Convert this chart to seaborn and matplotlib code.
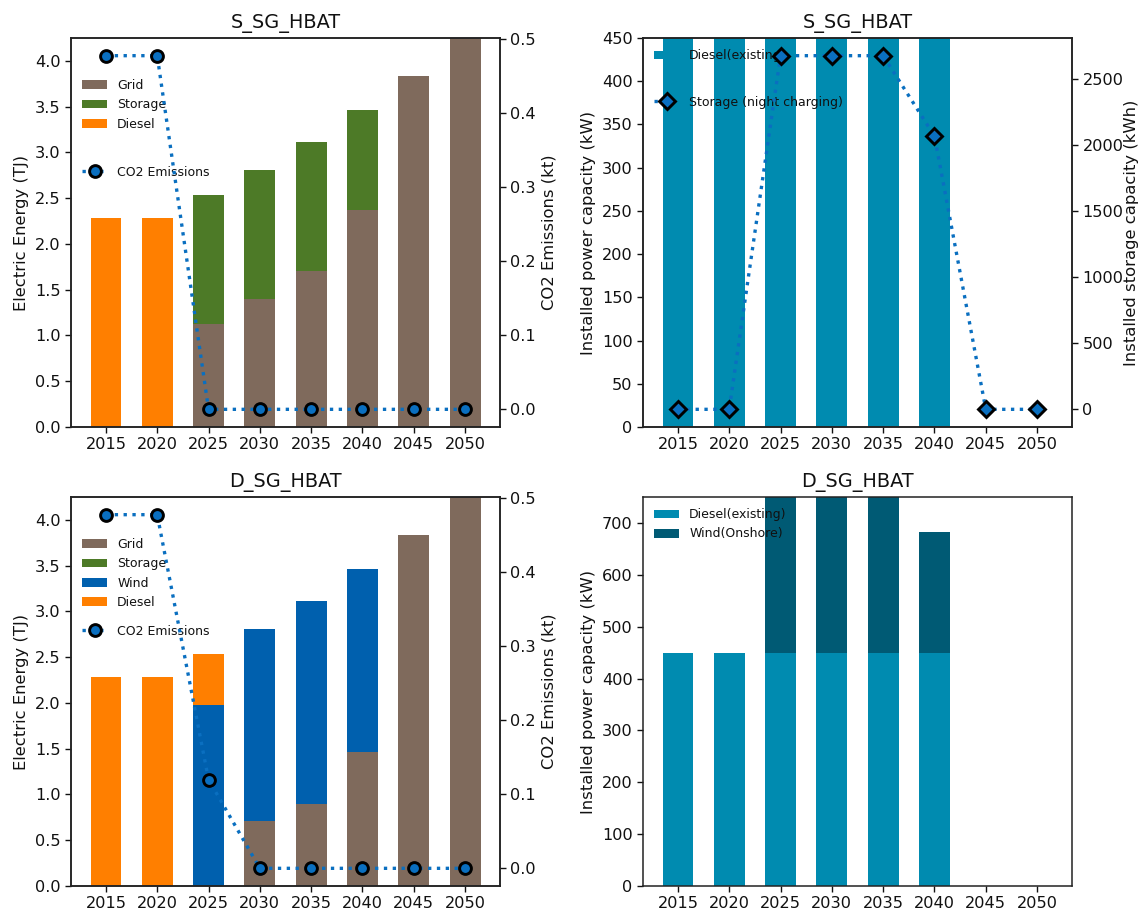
import matplotlib
matplotlib.use("Agg")
import matplotlib.pyplot as plt
import numpy as np
import pandas as pd
import seaborn as sns

# ---- data ----
years = [2015, 2020, 2025, 2030, 2035, 2040, 2045, 2050]

# S_SG_HBAT, electric energy (TJ)
s_grid = [0.0, 0.0, 1.12, 1.40, 1.70, 2.37, 3.83, 4.30]
s_storage = [0.0, 0.0, 1.42, 1.41, 1.41, 1.09, 0.0, 0.0]
s_diesel = [2.28, 2.28, 0.0, 0.0, 0.0, 0.0, 0.0, 0.0]
s_co2 = [0.478, 0.478, 0.0, 0.0, 0.0, 0.0, 0.0, 0.0]

# D_SG_HBAT, electric energy (TJ)
d_grid = [0.0, 0.0, 0.0, 0.71, 0.90, 1.46, 3.83, 4.30]
d_storage = [0.0, 0.0, 0.0, 0.0, 0.0, 0.0, 0.0, 0.0]
d_wind = [0.0, 0.0, 1.98, 2.10, 2.21, 2.00, 0.0, 0.0]
d_diesel = [2.28, 2.28, 0.55, 0.0, 0.0, 0.0, 0.0, 0.0]
d_co2 = [0.478, 0.478, 0.12, 0.0, 0.0, 0.0, 0.0, 0.0]

# installed capacities
s_cap_diesel = [450, 450, 450, 450, 450, 450, 0, 0]
s_cap_storage = [0, 0, 2675, 2675, 2675, 2067, 0, 0]
d_cap_diesel = [450, 450, 450, 450, 450, 450, 0, 0]
d_cap_wind = [0, 0, 310, 310, 310, 233, 0, 0]

C_GRID = "#7f6a5c"
C_STOR = "#4d7a27"
C_WIND = "#0060ae"
C_DIES = "#ff7f00"
C_CAP = "#008bb0"
C_CAPW = "#005a74"
C_LINE = "#0a6fc0"

FS_TICK = 11.6
FS_LAB = 11.8
FS_LEG = 9.0
FS_TITLE = 13.9


def stacked(ax, layers):
    bottom = np.zeros(len(years))
    for values, color, label in layers:
        df = pd.DataFrame({"year": years, "v": values})
        sns.barplot(
            data=df, x="year", y="v", ax=ax, native_scale=True, width=0.6,
            color=color, edgecolor="none", linewidth=0, saturation=1,
            errorbar=None, bottom=bottom.copy(), label=label,
        )
        bottom += np.asarray(values, dtype=float)


def co2_line(ax2, values, marker, label):
    df = pd.DataFrame({"year": years, "v": values})
    sns.lineplot(
        data=df, x="year", y="v", ax=ax2, color=C_LINE, linestyle=":",
        linewidth=2.4, marker=marker, markersize=8.5 if marker == "o" else 8,
        markeredgecolor="black", markeredgewidth=2.1, markerfacecolor=C_LINE,
        errorbar=None, label=label, legend=False,
    )


def finish(ax, title, ylabel):
    ax.set_title(title, fontsize=FS_TITLE, pad=7)
    ax.set_xlabel("")
    ax.set_ylabel(ylabel, fontsize=FS_LAB)
    ax.set_xticks(years)
    ax.set_xticklabels([str(y) for y in years])
    ax.set_xlim(2011.6, 2053.4)
    ax.tick_params(labelsize=FS_TICK)


def line_legend(ax, line, y):
    return ax.legend(handles=[line], labels=[line.get_label()], loc="center left",
                     bbox_to_anchor=(0, y), frameon=False, fontsize=FS_LEG)


sns.set_theme(style="ticks")
plt.rcParams["font.family"] = ["DejaVu Sans"]
plt.rcParams["axes.edgecolor"] = "#222222"
plt.rcParams["axes.linewidth"] = 1.1
plt.rcParams["xtick.major.width"] = 1.0
plt.rcParams["ytick.major.width"] = 1.0
plt.rcParams["xtick.major.size"] = 4
plt.rcParams["ytick.major.size"] = 4
plt.rcParams["xtick.color"] = "#111111"
plt.rcParams["ytick.color"] = "#111111"
plt.rcParams["axes.labelcolor"] = "#111111"
plt.rcParams["text.color"] = "#111111"

W, H = 1141, 911
fig = plt.figure(figsize=(W / 100, H / 100), dpi=100)


def rect(l, r, t, b):
    return [l / W, 1 - b / H, (r - l) / W, (b - t) / H]


# ---- top left ----
ax = fig.add_axes(rect(71, 500, 38, 427))
ax2 = ax.twinx()
stacked(ax, [(s_grid, C_GRID, "Grid"),
             (s_storage, C_STOR, "Storage"),
             (s_diesel, C_DIES, "Diesel")])
co2_line(ax2, s_co2, "o", "CO2 Emissions")
ax.set_ylim(0, 4.25)
finish(ax, "S_SG_HBAT", "Electric Energy (TJ)")
ax2.set_ylabel("CO2 Emissions (kt)", fontsize=FS_LAB)
ax2.set_yticks([0.0, 0.1, 0.2, 0.3, 0.4, 0.5])
ax2.tick_params(labelsize=FS_TICK)
h, l = ax.get_legend_handles_labels()
leg1 = ax.legend(h, l, loc="upper left", bbox_to_anchor=(0, 0.923), frameon=False, fontsize=FS_LEG)
ax.add_artist(leg1)
line_legend(ax, ax2.get_lines()[0], 0.655)

# ---- top right ----
ax = fig.add_axes(rect(643, 1072, 38, 427))
ax2 = ax.twinx()
stacked(ax, [(s_cap_diesel, C_CAP, "Diesel(existing)")])
co2_line(ax2, s_cap_storage, "D", "Storage (night charging)")
ax.set_ylim(0, 450)
finish(ax, "S_SG_HBAT", "Installed power capacity (kW)")
ax2.set_ylabel("Installed storage capacity (kWh)", fontsize=FS_LAB, labelpad=0.5)
ax2.set_yticks([0, 500, 1000, 1500, 2000, 2500])
ax2.tick_params(labelsize=FS_TICK)
h, l = ax.get_legend_handles_labels()
leg1 = ax.legend(h, l, loc="upper left", frameon=False, fontsize=FS_LEG)
ax.add_artist(leg1)
line_legend(ax, ax2.get_lines()[0], 0.835)

# ---- bottom left ----
ax = fig.add_axes(rect(71, 500, 497, 886))
ax2 = ax.twinx()
stacked(ax, [(d_grid, C_GRID, "Grid"),
             (d_storage, C_STOR, "Storage"),
             (d_wind, C_WIND, "Wind"),
             (d_diesel, C_DIES, "Diesel")])
co2_line(ax2, d_co2, "o", "CO2 Emissions")
ax.set_ylim(0, 4.25)
finish(ax, "D_SG_HBAT", "Electric Energy (TJ)")
ax2.set_ylabel("CO2 Emissions (kt)", fontsize=FS_LAB)
ax2.set_yticks([0.0, 0.1, 0.2, 0.3, 0.4, 0.5])
ax2.tick_params(labelsize=FS_TICK)
h, l = ax.get_legend_handles_labels()
leg1 = ax.legend(h, l, loc="upper left", bbox_to_anchor=(0, 0.923), frameon=False, fontsize=FS_LEG)
ax.add_artist(leg1)
line_legend(ax, ax2.get_lines()[0], 0.655)

# ---- bottom right ----
ax = fig.add_axes(rect(643, 1072, 497, 886))
stacked(ax, [(d_cap_diesel, C_CAP, "Diesel(existing)"),
             (d_cap_wind, C_CAPW, "Wind(Onshore)")])
ax.set_ylim(0, 750)
finish(ax, "D_SG_HBAT", "Installed power capacity (kW)")
ax.legend(loc="upper left", frameon=False, fontsize=FS_LEG)

fig.savefig("out.png", dpi=100)
